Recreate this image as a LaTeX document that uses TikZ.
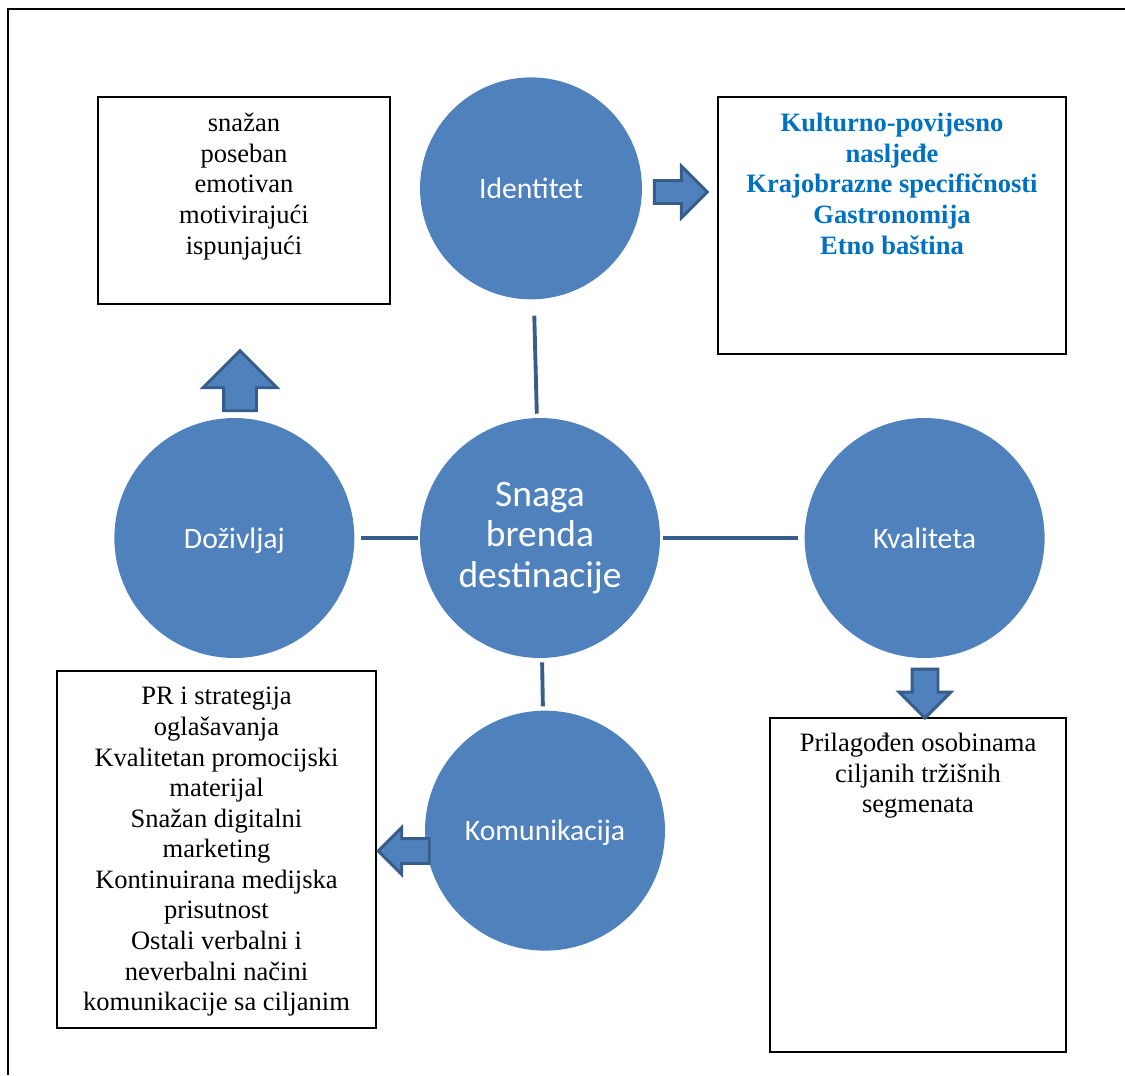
\documentclass[tikz,border=0pt]{standalone}
\usepackage{fontspec}
\setmainfont{Liberation Serif}
\newfontfamily\calibri{Carlito}
\usetikzlibrary{positioning, shapes.arrows}
\definecolor{brandblue}{HTML}{4F81BD}
\definecolor{brandedge}{HTML}{385D8A}
\definecolor{titleblue}{HTML}{0070C0}

\begin{document}
\begin{tikzpicture}[
    x=0.02cm, y=-0.02cm,
    pillar/.style={circle, fill=brandblue, inner sep=0pt, minimum size=4.8cm, align=center, text=white, text depth=-2pt, font=\calibri\fontsize{16.9}{20}\selectfont},
    box/.style={rectangle, draw=black, line width=0.85pt, inner sep=0pt},
    boxtext/.style={anchor=north, align=center, inner sep=0pt, font=\fontsize{15.1}{17.4}\selectfont},
    link/.style={draw=brandedge, line width=2.2pt},
    blockarrow/.style={single arrow, draw=brandedge, fill=brandblue, line width=1.7pt, single arrow tip angle=90}
]
\useasboundingbox (0,0) rectangle (1125,1075);

% ==== Outer frame ====
\draw[line width=1.4pt] (8,1075) -- (8,9) -- (1125,9);

% ==== Brand circles ====
\node[pillar, text depth=, font=\calibri\fontsize{21.3}{23.2}\selectfont] (snaga) at (540,538) {Snaga\\brenda\\destinacije};
\node[pillar, minimum size=4.44cm, above=2.36cm of snaga, xshift=-0.18cm] (identitet) {Identitet};
\node[pillar, left=1.3cm of snaga] (dozivljaj) {Doživljaj};
\node[pillar, right=2.88cm of snaga] (kvaliteta) {Kvaliteta};
\node[pillar, below=1.04cm of snaga, xshift=0.1cm] (komunikacija) {Komunikacija};

% ==== Links to the centre ====
\draw[link, shorten <=0.32cm, shorten >=0.08cm] (identitet) -- (snaga);
\draw[link, shorten <=0.12cm, shorten >=0.04cm] (dozivljaj) -- (snaga);
\draw[link, shorten <=0.06cm, shorten >=0.12cm] (snaga) -- (kvaliteta);
\draw[link, shorten <=0.08cm, shorten >=0.08cm] (snaga) -- (komunikacija);

% ==== Text boxes ====
\node[box, minimum width=5.84cm, minimum height=4.14cm] (dozbox) at (244,200.5) {};
\node[boxtext] (doztext) at (244,113) {snažan\\poseban\\emotivan\\motivirajući\\ispunjajući};

\node[box, minimum width=6.96cm, minimum height=5.14cm] (idbox) at (892,225.5) {};
\node[boxtext, text=titleblue, font=\bfseries\fontsize{15.1}{17.4}\selectfont] (idtext) at (892,113) {Kulturno-povijesno\\nasljeđe\\Krajobrazne specifičnosti\\Gastronomija\\Etno baština};

\node[box, minimum width=6.38cm, minimum height=7.14cm] (kombox) at (216.5,849.5) {};
\node[boxtext] (komtext) at (216.5,687) {PR i strategija\\oglašavanja\\Kvalitetan promocijski\\materijal\\Snažan digitalni\\marketing\\Kontinuirana medijska\\prisutnost\\Ostali verbalni i\\neverbalni načini\\komunikacije sa ciljanim};

\node[box, minimum width=5.92cm, minimum height=6.68cm] (kvalbox) at (918,885) {};
\node[boxtext] (kvaltext) at (918,733) {Prilagođen osobinama\\ciljanih tržišnih\\segmenata};

% ==== Block arrows ====
\node[blockarrow, inner sep=0.2cm, minimum height=1.06cm, single arrow head extend=0.29cm] (idarrow) at (675,192) {};
\node[blockarrow, shape border rotate=90, inner sep=0.3cm, minimum height=1.2cm, single arrow head extend=0.41cm] (dozarrow) at (240,389) {};
\node[blockarrow, shape border rotate=270, inner sep=0.23cm, minimum height=0.98cm, single arrow head extend=0.26cm] (kvalarrow) at (925,687) {};
\node[blockarrow, shape border rotate=180, inner sep=0.22cm, minimum height=1.02cm, single arrow head extend=0.22cm] (komarrow) at (410,851) {};

\end{tikzpicture}
\end{document}
